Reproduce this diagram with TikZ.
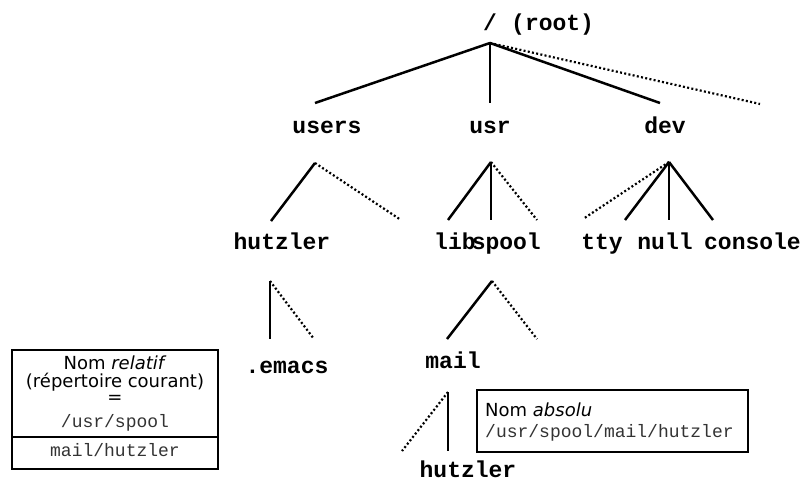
\documentclass[tikz,border=0pt]{standalone}
\usepackage{fontspec}
\setmainfont{DejaVu Sans}
\newfontfamily\monofont{Liberation Mono}
\begin{document}
\begin{tikzpicture}[x=1pt,y=-1pt,
  dirname/.style={font=\monofont\bfseries\fontsize{23}{26}\selectfont, inner sep=0pt, anchor=base},
  branch/.style={line width=2.5pt},
  elided/.style={line width=2.2pt, dash pattern=on 2pt off 2.3pt},
  infobox/.style={draw, line width=1.1pt, inner sep=0pt},
  boxtext/.style={font=\fontsize{18}{20}\selectfont, inner sep=0pt},
  pathtext/.style={font=\monofont\fontsize{18}{20}\selectfont, text=black!80, inner sep=0pt}]
\useasboundingbox (0,0) rectangle (805,482);

% ---- root ----
\node[dirname] (root) at (490,30) {/};
\node[dirname, anchor=base west] (rootnote) at (511,30) {(root)};
\coordinate (j0) at (490,43);

% ---- first level ----
\node[dirname] (users) at (327,133) {users};
\node[dirname] (usr)   at (490,133) {usr};
\node[dirname] (dev)   at (665,133) {dev};
\coordinate (t-users) at (315,103);
\coordinate (t-usr)   at (490,103);
\coordinate (t-dev)   at (660,103);
\coordinate (more0)   at (760,104);
\draw[branch] (j0) -- (t-users);
\draw[branch] (j0) -- (t-usr);
\draw[branch] (j0) -- (t-dev);
\draw[elided] (j0) -- (more0);

% ---- second level ----
\coordinate (j-users) at (315,163);
\coordinate (j-usr)   at (491,162);
\coordinate (j-dev)   at (669,162);

\node[dirname] (hutzlerA) at (282,249) {hutzler};
\node[dirname, anchor=base west] (lib) at (434,249) {lib};
\node[dirname, anchor=base east] (spool) at (541,249) {spool};
\node[dirname] (tty) at (602,249) {tty};
\node[dirname] (null) at (665,249) {null};
\node[dirname, anchor=base east] (console) at (801,249) {console};

\coordinate (t-hutzlerA) at (271,221);
\coordinate (more-users) at (401,220);
\coordinate (t-lib)      at (448,220);
\coordinate (t-spool)    at (491,220);
\coordinate (more-usr)   at (537,220);
\coordinate (more-dev)   at (583,219);
\coordinate (t-tty)      at (625,220);
\coordinate (t-null)     at (669,220);
\coordinate (t-console)  at (713,220);

\draw[branch] (j-users) -- (t-hutzlerA);
\draw[elided] (j-users) -- (more-users);
\draw[branch] (j-usr) -- (t-lib);
\draw[branch] (j-usr) -- (t-spool);
\draw[elided] (j-usr) -- (more-usr);
\draw[elided] (j-dev) -- (more-dev);
\draw[branch] (j-dev) -- (t-tty);
\draw[branch] (j-dev) -- (t-null);
\draw[branch] (j-dev) -- (t-console);

% ---- third level ----
\coordinate (j-hutzlerA) at (270,281);
\coordinate (j-spool)    at (492,281);
\node[dirname] (emacs) at (287,373) {.emacs};
\node[dirname] (mail)  at (453,368) {mail};
\coordinate (t-emacs)      at (270,339);
\coordinate (more-hutzler) at (314,339);
\coordinate (t-mail)       at (447,339);
\coordinate (more-spool)   at (537,339);
\draw[branch] (j-hutzlerA) -- (t-emacs);
\draw[elided] (j-hutzlerA) -- (more-hutzler);
\draw[branch] (j-spool) -- (t-mail);
\draw[elided] (j-spool) -- (more-spool);

% ---- fourth level ----
\coordinate (j-mail) at (448,392);
\node[dirname] (hutzlerB) at (468,477) {hutzler};
\coordinate (t-hutzlerB) at (448,451);
\coordinate (more-mail)  at (402,451);
\draw[branch] (j-mail) -- (t-hutzlerB);
\draw[elided] (j-mail) -- (more-mail);

% ---- relative name box ----
\node[infobox, minimum width=206pt, minimum height=119pt] (relbox) at (115,409.5) {};
\coordinate (divy) at (0,437);
\draw[line width=1.1pt] (relbox.west |- divy) -- (relbox.east |- divy);
\node[boxtext] (rel1) at (115,363) {Nom \textit{relatif}};
\node[boxtext] (rel2) at (115,382) {(répertoire courant)};
\node[boxtext] (rel3) at (115,399) {=};
\node[pathtext] (rel4) at (115,423) {/usr/spool};
\node[pathtext] (rel5) at (115,450) {mail/hutzler};

% ---- absolute name box ----
\node[infobox, minimum width=271pt, minimum height=62pt] (absbox) at (612.5,421) {};
\node[boxtext, anchor=west] (abs1) at (485,410) {Nom \textit{absolu}};
\node[pathtext, anchor=west] (abs2) at (485,433) {/usr/spool/mail/hutzler};
\end{tikzpicture}
\end{document}
